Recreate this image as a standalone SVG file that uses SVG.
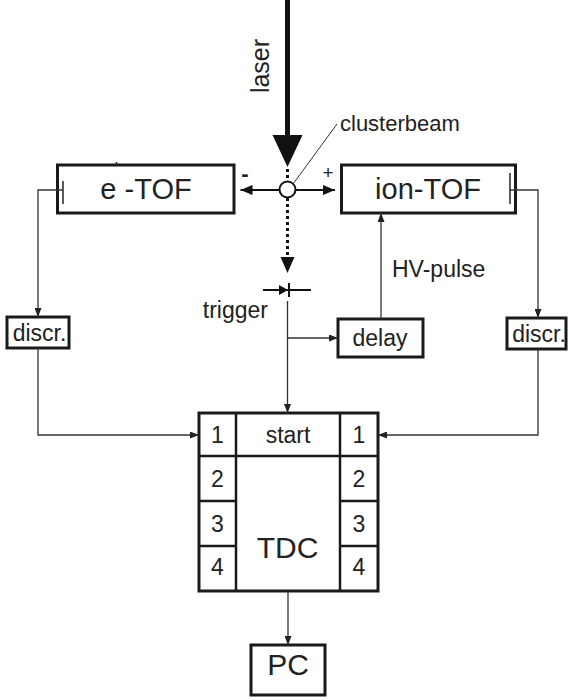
<svg xmlns="http://www.w3.org/2000/svg" width="568" height="700" viewBox="0 0 568 700">
  <defs>
    <style>
      .box { fill: #fff; stroke: #1a1a1a; stroke-width: 3; }
      .wire { fill: none; stroke: #333; stroke-width: 1.3; }
      .txt { font-family: "Liberation Sans", Arial, sans-serif; fill: #222; }
      .mid { text-anchor: middle; }
    </style>
    <marker id="arr" viewBox="0 0 9 7" refX="9" refY="3.5" markerWidth="9" markerHeight="7" markerUnits="userSpaceOnUse" orient="auto">
      <path d="M0,0 L9,3.5 L0,7 Z" fill="#222"/>
    </marker>
    <marker id="arrBig" viewBox="0 0 12 10" refX="12" refY="5" markerWidth="12" markerHeight="10" markerUnits="userSpaceOnUse" orient="auto">
      <path d="M0,0 L12,5 L0,10 Z" fill="#111"/>
    </marker>
  </defs>
  <rect width="568" height="700" fill="#fff"/>

  <!-- laser beam -->
  <g id="laser">
    <line x1="287.5" y1="0" x2="287.5" y2="137" stroke="#111" stroke-width="5"/>
    <path d="M272.5,135 L302.5,135 L287.5,167 Z" fill="#111"/>
    <text class="txt mid" font-size="25" transform="translate(269,66) rotate(-90)">laser</text>
  </g>

  <!-- cluster beam crossing point -->
  <g id="clusterbeam">
    <line x1="287.5" y1="169" x2="287.5" y2="181" stroke="#111" stroke-width="3" stroke-dasharray="3,3"/>
    <line x1="287.5" y1="198" x2="287.5" y2="258" stroke="#111" stroke-width="3" stroke-dasharray="3,3"/>
    <path d="M280.5,257 L294.5,257 L287.5,273 Z" fill="#111"/>
    <circle cx="287.5" cy="189.5" r="8" fill="#fff" stroke="#111" stroke-width="2"/>
    <line x1="293" y1="184" x2="337" y2="124" stroke="#333" stroke-width="1"/>
    <text class="txt" x="340" y="131" font-size="22">clusterbeam</text>
    <text class="txt mid" x="245" y="181" font-size="22" font-weight="bold">-</text>
    <text class="txt mid" x="328" y="179" font-size="19">+</text>
  </g>

  <!-- electron time-of-flight -->
  <g id="etof">
    <rect class="box" x="57.5" y="165" width="176.5" height="48"/>
    <line x1="63" y1="181" x2="63" y2="204" stroke="#222" stroke-width="1.5"/>
    <line x1="116.5" y1="162" x2="116.5" y2="165" stroke="#222" stroke-width="1.5"/>
    <text class="txt mid" x="146" y="199" font-size="29">e -TOF</text>
  </g>

  <!-- ion time-of-flight -->
  <g id="iontof">
    <rect class="box" x="341.5" y="165" width="174" height="48"/>
    <line x1="510" y1="173" x2="510" y2="204" stroke="#222" stroke-width="1.5"/>
    <text class="txt mid" x="428" y="199" font-size="29">ion-TOF</text>
  </g>

  <!-- photodiode trigger -->
  <g id="trigger">
    <line x1="263" y1="290" x2="311" y2="290" stroke="#111" stroke-width="2"/>
    <path d="M279,285 L288,290 L279,295 Z" fill="#111"/>
    <line x1="289" y1="283" x2="289" y2="297" stroke="#111" stroke-width="2"/>
    <text class="txt" x="268" y="318" font-size="23" text-anchor="end">trigger</text>
  </g>

  <g id="delay">
    <rect class="box" x="338" y="319" width="85" height="38"/>
    <text class="txt mid" x="380" y="346" font-size="23">delay</text>
  </g>

  <g id="hvpulse">
    <text class="txt" x="392" y="277" font-size="23">HV-pulse</text>
  </g>

  <g id="discr-left">
    <rect class="box" x="7" y="317" width="62" height="31"/>
    <text class="txt mid" x="39.5" y="341" font-size="23">discr.</text>
  </g>

  <g id="discr-right">
    <rect class="box" x="507" y="318" width="59" height="31"/>
    <text class="txt mid" x="539" y="342" font-size="23">discr.</text>
  </g>

  <!-- time-to-digital converter -->
  <g id="tdc">
    <rect class="box" x="199" y="413" width="179" height="178"/>
    <g stroke="#1a1a1a" stroke-width="2.5" fill="none">
      <line x1="236" y1="413" x2="236" y2="591"/>
      <line x1="340" y1="413" x2="340" y2="591"/>
      <line x1="199" y1="456" x2="378" y2="456"/>
      <line x1="199" y1="501" x2="236" y2="501"/>
      <line x1="199" y1="546" x2="236" y2="546"/>
      <line x1="340" y1="501" x2="378" y2="501"/>
      <line x1="340" y1="546" x2="378" y2="546"/>
    </g>
    <g class="txt mid" font-size="23">
      <text x="217.5" y="443">1</text>
      <text x="217.5" y="487">2</text>
      <text x="217.5" y="532">3</text>
      <text x="217.5" y="575">4</text>
      <text x="359" y="443">1</text>
      <text x="359" y="487">2</text>
      <text x="359" y="532">3</text>
      <text x="359" y="575">4</text>
      <text x="288" y="443">start</text>
    </g>
    <text class="txt mid" x="287.5" y="558" font-size="30">TDC</text>
  </g>

  <g id="pc">
    <rect class="box" x="251" y="645" width="74" height="50"/>
    <text class="txt mid" x="288" y="675" font-size="30">PC</text>
  </g>

  <!-- signal connectors -->
  <g id="connectors">
    <line x1="279" y1="190" x2="240.5" y2="190" stroke="#111" stroke-width="2" marker-end="url(#arrBig)"/>
    <line x1="296" y1="190" x2="335" y2="190" stroke="#111" stroke-width="2" marker-end="url(#arrBig)"/>
    <polyline class="wire" points="63,190 38,190 38,317" marker-end="url(#arr)"/>
    <polyline class="wire" points="510,190 538,190 538,318" marker-end="url(#arr)"/>
    <polyline class="wire" points="38,348 38,435 199,435" marker-end="url(#arr)"/>
    <polyline class="wire" points="538,349 538,435 378,435" marker-end="url(#arr)"/>
    <line class="wire" x1="287.5" y1="301" x2="287.5" y2="413" marker-end="url(#arr)"/>
    <line class="wire" x1="287.5" y1="338" x2="338" y2="338" marker-end="url(#arr)"/>
    <line class="wire" x1="381" y1="319" x2="381" y2="213" marker-end="url(#arr)"/>
    <line class="wire" x1="288" y1="591" x2="288" y2="645" marker-end="url(#arr)"/>
  </g>
</svg>
